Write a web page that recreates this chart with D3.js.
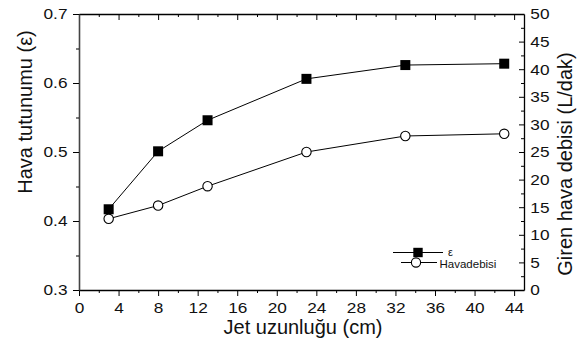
<!DOCTYPE html>
<html>
<head>
<meta charset="utf-8">
<script src="https://cdn.jsdelivr.net/npm/d3@7"></script>
<style>
  html, body { margin: 0; padding: 0; background: #fff; }
  svg { display: block; font-family: "Liberation Sans", Arial, sans-serif; font-weight: normal; }
</style>
</head>
<body>
<svg id="chart" width="584" height="342"></svg>
<script>
// ---- data ----
const jetLength = [3, 8, 13, 23, 33, 43];                 // Jet uzunluğu (cm)
const epsilon   = [0.417, 0.501, 0.546, 0.606, 0.626, 0.628]; // Hava tutunumu (ε)
const airflow   = [12.9, 15.3, 18.8, 25.0, 27.9, 28.3];   // Giren hava debisi (L/dak)
const xMajorTicks = [0, 4, 8, 12, 16, 20, 24, 28, 32, 36, 40, 44];
const xMinorTicks = [2, 6, 10, 14, 18, 22, 26, 30, 34, 38, 42];
const yLeftMajor  = [0.3, 0.4, 0.5, 0.6, 0.7];
const yLeftMinor  = [0.35, 0.45, 0.55, 0.65];
const yRightMajor = [0, 5, 10, 15, 20, 25, 30, 35, 40, 45, 50];
const yRightMinor = [2.5, 7.5, 12.5, 17.5, 22.5, 27.5, 32.5, 37.5, 42.5, 47.5];
const xTitle = "Jet uzunluğu (cm)";
const yLeftTitle = "Hava tutunumu (ε)";
const yRightTitle = "Giren hava debisi (L/dak)";
const legendLabels = ["ε", "Havadebisi"];

// ---- layout ----
const FONT = "'Liberation Sans', Arial, sans-serif";
const L = 79, R = 524, T = 14, B = 290;
const svg = d3.select("#chart");
const x = d3.scaleLinear().domain([0, 45]).range([L, R]);
const yL = d3.scaleLinear().domain([0.3, 0.7]).range([B, T]);
const yR = d3.scaleLinear().domain([0, 50]).range([B, T]);

function styleAxis(g, sw) {
  g.attr("font-family", null).attr("font-size", null);
  g.select(".domain").attr("stroke", "#000").attr("stroke-width", sw || 1);
  g.selectAll(".tick line").attr("stroke", "#000").attr("stroke-width", 1);
  g.selectAll(".tick text").attr("fill", "#111").style("font-size", "15px")
    .style("font-family", FONT).style("font-weight", "normal");
}

// bottom axis
const gB = svg.append("g").attr("transform", `translate(0,${B})`)
  .call(d3.axisBottom(x).tickValues(xMajorTicks).tickFormat(d3.format("d")).tickSize(6).tickSizeOuter(0).tickPadding(6));
styleAxis(gB, 1.3);
gB.selectAll(".tick text").attr("transform", "scale(1.15,1)");
svg.append("g").attr("transform", `translate(0,${B})`)
  .call(d3.axisBottom(x).tickValues(xMinorTicks).tickFormat("").tickSize(3).tickSizeOuter(0))
  .call(g => { g.select(".domain").remove(); g.selectAll("line").attr("stroke", "#000"); });

// top axis (ticks inward)
const gT = svg.append("g").attr("transform", `translate(0,${T})`)
  .call(d3.axisBottom(x).tickValues(xMajorTicks).tickFormat("").tickSize(6).tickSizeOuter(0));
styleAxis(gT, 1.3);
svg.append("g").attr("transform", `translate(0,${T})`)
  .call(d3.axisBottom(x).tickValues(xMinorTicks).tickFormat("").tickSize(3).tickSizeOuter(0))
  .call(g => { g.select(".domain").remove(); g.selectAll("line").attr("stroke", "#000"); });

// left axis
const gL = svg.append("g").attr("transform", `translate(${L},0)`)
  .call(d3.axisLeft(yL).tickValues(yLeftMajor).tickFormat(d3.format(".1f")).tickSize(6).tickSizeOuter(0).tickPadding(4));
styleAxis(gL, 1.6);
gL.select(".domain").attr("stroke", "#444");
gL.selectAll(".tick text").attr("transform", "scale(1.15,1)");
svg.append("g").attr("transform", `translate(${L},0)`)
  .call(d3.axisLeft(yL).tickValues(yLeftMinor).tickFormat("").tickSize(3).tickSizeOuter(0))
  .call(g => { g.select(".domain").remove(); g.selectAll("line").attr("stroke", "#000"); });

// right axis (ticks inward, labels outside)
const gR = svg.append("g").attr("transform", `translate(${R},0)`)
  .call(d3.axisLeft(yR).tickValues(yRightMajor).tickFormat(d3.format("d")).tickSize(5).tickSizeOuter(0));
styleAxis(gR, 1.3);
gR.selectAll(".tick text").attr("x", 5.5).attr("text-anchor", "start").attr("transform", "scale(1.15,1)");
svg.append("g").attr("transform", `translate(${R},0)`)
  .call(d3.axisLeft(yR).tickValues(yRightMinor).tickFormat("").tickSize(3).tickSizeOuter(0))
  .call(g => { g.select(".domain").remove(); g.selectAll("line").attr("stroke", "#000"); });

// titles
svg.append("text").attr("x", 303).attr("y", 334).attr("text-anchor", "middle")
  .style("font-size", "20px").style("font-family", FONT).attr("fill", "#111").text(xTitle);
svg.append("text").attr("transform", "translate(31.5,112) rotate(-90)").attr("text-anchor", "middle")
  .style("font-size", "20px").style("font-family", FONT).attr("fill", "#111").text(yLeftTitle);
svg.append("text").attr("transform", "translate(571.5,164) rotate(-90)").attr("text-anchor", "middle")
  .style("font-size", "20px").style("font-family", FONT).attr("fill", "#111").text(yRightTitle);

// series
const epsData = jetLength.map((d, i) => ({ x: d, y: epsilon[i] }));
const airData = jetLength.map((d, i) => ({ x: d, y: airflow[i] }));

svg.append("path").datum(epsData)
  .attr("d", d3.line().x(d => x(d.x)).y(d => yL(d.y)))
  .attr("fill", "none").attr("stroke", "#000").attr("stroke-width", 1);
svg.append("path").datum(airData)
  .attr("d", d3.line().x(d => x(d.x)).y(d => yR(d.y)))
  .attr("fill", "none").attr("stroke", "#000").attr("stroke-width", 1);

const sq = 10;
svg.selectAll("rect.eps").data(epsData).enter().append("rect").attr("class", "eps")
  .attr("x", d => x(d.x) - sq / 2).attr("y", d => yL(d.y) - sq / 2)
  .attr("width", sq).attr("height", sq).attr("fill", "#000");
svg.selectAll("circle.air").data(airData).enter().append("circle").attr("class", "air")
  .attr("cx", d => x(d.x)).attr("cy", d => yR(d.y)).attr("r", 4.7)
  .attr("fill", "#fff").attr("stroke", "#000").attr("stroke-width", 1.1);

// legend
const lg = svg.append("g");
lg.append("line").attr("x1", 393).attr("x2", 443).attr("y1", 252.5).attr("y2", 252.5).attr("stroke", "#000").attr("stroke-width", 1);
lg.append("rect").attr("x", 418 - 4.7).attr("y", 252.5 - 4.7).attr("width", 9.4).attr("height", 9.4).attr("fill", "#000");
lg.append("text").attr("x", 448).attr("y", 255.5).style("font-size", "11px").style("font-family", FONT).attr("fill", "#111").text(legendLabels[0]);
lg.append("line").attr("x1", 401).attr("x2", 437).attr("y1", 262.5).attr("y2", 262.5).attr("stroke", "#000").attr("stroke-width", 1);
lg.append("circle").attr("cx", 416).attr("cy", 262.5).attr("r", 4.6).attr("fill", "#fff").attr("stroke", "#000").attr("stroke-width", 1.1);
lg.append("text").attr("x", 439.5).attr("y", 268).style("font-size", "11.5px").style("font-family", FONT).attr("fill", "#111").text(legendLabels[1]);
</script>
</body>
</html>
